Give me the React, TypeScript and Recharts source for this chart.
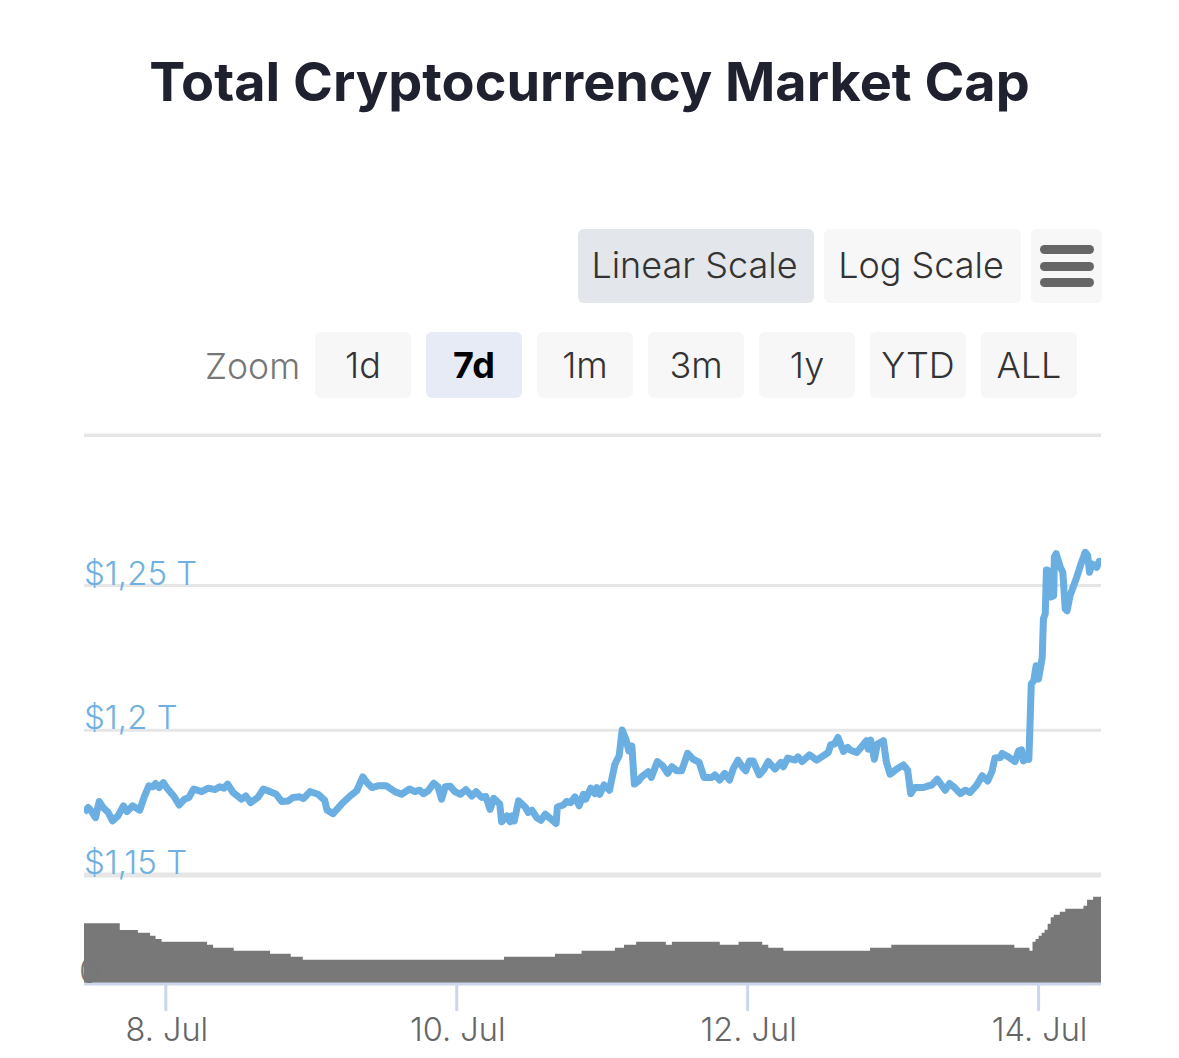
import React from 'react';
import { AreaChart, Area, LineChart, Line, XAxis, YAxis, CartesianGrid, ReferenceLine } from 'recharts';

// hours counted from 8 Jul 00:00
const priceHours = [
  -13.5, -12.8, -12.3, -11.6, -11.0, -10.3, -9.5, -8.8, -7.9, -7.0, -6.4, -5.5, -4.3, -3.5, -2.8, -2.1, -1.7, -1.1, -0.4, 0.2,
  1.3, 2.2, 3.1, 3.8, 4.6, 5.9, 7.0, 8.1, 8.9, 9.6, 10.2, 11.1, 12.5, 13.2, 14.0, 15.2, 16.1, 17.2, 18.2, 19.1,
  20.2, 21.0, 22.1, 22.7, 23.8, 25.1, 26.2, 26.6, 27.6, 29.0, 30.4, 31.5, 32.5, 33.2, 34.0, 35.0, 36.4, 37.8, 38.9, 40.2,
  41.1, 41.9, 42.5, 43.3, 44.2, 44.9, 45.5, 46.1, 46.9, 47.7, 48.6, 49.5, 50.5, 51.2, 52.1, 52.8, 53.5, 54.1, 55.1, 55.4,
  56.3, 56.8, 57.1, 57.5, 58.2, 59.3, 59.8, 60.4, 61.2, 61.9, 62.6, 63.4, 64.4, 64.6, 65.6, 66.1, 66.8, 67.5, 68.2, 68.9,
  69.3, 70.1, 70.8, 71.1, 71.6, 72.3, 73.2, 73.7, 74.1, 74.8, 75.3, 75.9, 76.4, 76.9, 77.3, 78.0, 78.5, 79.6, 80.1, 81.1,
  82.0, 82.8, 83.5, 84.3, 85.1, 86.1, 87.0, 88.0, 88.8, 90.1, 90.6, 91.4, 92.2, 93.0, 93.6, 94.4, 95.2, 95.7, 96.3, 96.9,
  97.9, 98.7, 99.4, 100.5, 101.5, 101.9, 102.6, 103.8, 104.3, 105.0, 106.2, 107.4, 109.3, 109.7, 110.3, 110.9, 111.8, 112.5, 112.9, 114.0,
  114.8, 115.6, 115.9, 116.3, 116.9, 117.4, 118.4, 118.9, 119.5, 120.6, 121.7, 122.4, 122.9, 123.6, 125.0, 125.8, 126.4, 127.3, 128.6, 129.3,
  130.0, 131.1, 131.9, 132.7, 133.8, 134.7, 135.6, 136.3, 136.8, 137.7, 138.0, 139.0, 140.1, 140.7, 141.2, 141.5, 142.1, 142.4, 142.8, 143.2,
  143.6, 144.0, 144.6, 144.8, 145.1, 145.3, 145.6, 146.0, 146.5, 146.6, 146.9, 147.6, 148.0, 148.4, 148.7, 149.2, 149.7, 150.3, 151.0, 151.7,
  152.1, 152.4, 152.8, 153.6, 154.0, 154.3,
];

// total market cap, billions of dollars
const priceValues = [
  1171.6, 1173.3, 1172.1, 1169.8, 1175.4, 1173.2, 1171.6, 1168.7, 1170.4, 1173.9, 1171.9, 1173.9, 1172.4, 1177.3, 1180.8, 1180.5, 1181.6, 1180.2, 1181.9, 1180,
  1177.3, 1174.2, 1176.2, 1176.8, 1179.7, 1178.8, 1180, 1179.5, 1180.5, 1180, 1181.4, 1178.5, 1176.2, 1177.3, 1175, 1176.8, 1179.7, 1178.8, 1177.9, 1175.4,
  1175.6, 1176.8, 1177, 1176.4, 1178.8, 1177.9, 1175.9, 1172.4, 1171.2, 1174.5, 1177.3, 1179.1, 1183.9, 1181.9, 1180.2, 1180.8, 1180.8, 1178.8, 1177.9, 1179.7,
  1178.8, 1179.3, 1178.1, 1179.1, 1181.7, 1180.5, 1176.2, 1180.5, 1180.7, 1178.8, 1177.9, 1179.5, 1177.3, 1178.8, 1176.8, 1177.1, 1172.7, 1176.5, 1174.5, 1168.4,
  1170.4, 1168.4, 1170.4, 1168.7, 1175.6, 1173.5, 1171.6, 1172.4, 1169.8, 1168.9, 1171, 1169.6, 1167.8, 1173.5, 1174.2, 1175.4, 1175, 1177, 1173.9, 1177.9,
  1176.2, 1180, 1178.1, 1180.2, 1177.9, 1181.1, 1179.3, 1184.3, 1188.3, 1191.2, 1200.1, 1197, 1192.9, 1194.6, 1181.4, 1182.5, 1183.9, 1185.7, 1183.7, 1189.2,
  1187.7, 1185.1, 1187.4, 1186, 1186, 1192, 1190, 1188.9, 1183.7, 1183.7, 1184.6, 1182.8, 1185.1, 1182.8, 1186.6, 1189.7, 1187.1, 1186, 1189.4, 1189.4,
  1184.6, 1186.5, 1189.2, 1186.6, 1188.9, 1187.4, 1190.4, 1189.7, 1190.8, 1189.2, 1191.5, 1189.7, 1192.3, 1195, 1195.2, 1197.5, 1192.7, 1194.1, 1193.2, 1192.3,
  1194.3, 1196.4, 1193.5, 1196.6, 1190, 1195.2, 1196.4, 1188.9, 1184.8, 1186.6, 1188, 1186.2, 1178.1, 1180.2, 1180.2, 1180.8, 1181.1, 1183.1, 1179.3, 1181.6,
  1180.5, 1178.1, 1179.3, 1178.5, 1181.1, 1184.3, 1182.5, 1185.7, 1190.4, 1190.6, 1192, 1190.8, 1189.2, 1192.9, 1193.2, 1189.4, 1190.6, 1190, 1216, 1217.1,
  1222.3, 1217.7, 1225.2, 1238.5, 1240.2, 1255.4, 1255.2, 1246, 1246.5, 1259.8, 1261, 1256.3, 1254.6, 1241.9, 1241.3, 1246.5, 1249.4, 1252.9, 1257.5, 1261.5,
  1260.4, 1254.6, 1257.5, 1256.3, 1258.4, 1258.3,
];

const volumeHours = [
  -13.5, -7.6, -4.6, -2.6, -1.7, -0.7, 6.8, 7.8, 11.2, 17.2, 20.6, 22.6, 55.8, 64.2, 68.6, 74.1, 75.6, 77.6, 82.5, 83.5,
  91.4, 94.5, 98.4, 99.4, 101.9, 116.2, 119.7, 140, 142.5, 143, 143.5, 144, 144.5, 145, 145.5, 146, 146.5, 147.5, 148.4, 151.4,
  152, 153, 154.3,
];

const volumeValues = [
  60.7, 54, 51.3, 48.3, 45, 42.3, 39.3, 36.3, 33.3, 30.3, 27.3, 24.3, 27.3, 30.3, 33.3, 36.3, 39.3, 42.3, 39.3, 42.3,
  39.3, 42.3, 39.3, 36.3, 33.3, 36.3, 39.3, 36.3, 33.3, 42.3, 45, 48.3, 51.3, 54.3, 60.3, 66.7, 69.3, 72.3, 75.3, 78.3,
  84.3, 87.3, 87.3,
];

const priceTicks = [1150, 1200, 1250];
const priceLabels: Record<number, string> = { 1150: '$1,15 T', 1200: '$1,2 T', 1250: '$1,25 T' };
const dateTicks = [0, 48, 96, 144];
const dateLabels: Record<number, string> = { 0: '8. Jul', 48: '10. Jul', 96: '12. Jul', 144: '14. Jul' };
const scaleButtons = [
  { label: 'Linear Scale', left: 578, width: 236, bg: '#e3e6ea' },
  { label: 'Log Scale', left: 824, width: 197, bg: '#f7f7f7' },
];
const zoomButtons = ['1d', '7d', '1m', '3m', '1y', 'YTD', 'ALL'];

const priceData = priceHours.map((t, i) => ({ t, v: priceValues[i] }));
const volumeData = volumeHours.map((t, i) => ({ t, v: volumeValues[i] }));

const FONT = 'Inter, sans-serif';
const hourDomain: [number, number] = [-13.5, 154.3];

const PriceTick = ({ x, y, payload }: any) => (
  <text x={x} y={y - 1} fontFamily={FONT} fontSize={33} fontWeight={300} fill="#6fb0e0" textAnchor="start">
    {priceLabels[payload.value]}
  </text>
);

const ZeroTick = ({ x, y }: any) => (
  <text x={x - 5} y={y - 1} fontFamily={FONT} fontSize={34} fontWeight={300} fill="#777777" textAnchor="start">
    0
  </text>
);

const DateTick = ({ x, y, payload }: any) => (
  <text x={x + 1} y={y + 3} fontFamily={FONT} fontSize={32.5} fontWeight={300} fill="#666666" textAnchor="middle" dominantBaseline="hanging">
    {dateLabels[payload.value]}
  </text>
);

const box = (left: number, top: number, width: number, height: number, bg: string): React.CSSProperties => ({
  position: 'absolute', left, top, width, height, background: bg, borderRadius: 6,
  display: 'flex', alignItems: 'center', justifyContent: 'center',
});

export default function App() {
  return (
    <div style={{ position: 'absolute', left: 0, top: 0, width: 1179, height: 1058, background: '#fff', fontFamily: FONT, overflow: 'hidden' }}>
      <div style={{ position: 'absolute', left: 0, width: 1179, top: 51, textAlign: 'center', fontSize: 54, fontWeight: 700, color: '#20212e', lineHeight: '62px' }}>
        Total Cryptocurrency Market Cap
      </div>

      {scaleButtons.map((b) => (
        <div key={b.label} style={{ ...box(b.left, 229, b.width, 74, b.bg), fontSize: 36, fontWeight: 300, color: '#333', paddingRight: 3, paddingBottom: 2, boxSizing: 'border-box' }}>{b.label}</div>
      ))}
      <div style={box(1031, 229, 71, 74, '#f7f7f7')} />
      {[245, 262, 278].map((top) => (
        <div key={top} style={{ position: 'absolute', left: 1040, top, width: 54, height: 9, borderRadius: 5, background: '#666' }} />
      ))}

      <div style={{ position: 'absolute', left: 205, top: 345, fontSize: 35.5, fontWeight: 300, color: '#777', lineHeight: '44px' }}>Zoom</div>
      {zoomButtons.map((label, i) => (
        <div
          key={label}
          style={{
            ...box(315 + i * 111, 332, 96, 66, label === '7d' ? '#e6ebf5' : '#f7f7f7'),
            fontSize: 36,
            fontWeight: label === '7d' ? 700 : 300,
            color: label === '7d' ? '#000' : '#333',
          }}
        >
          {label}
        </div>
      ))}
      <div style={{ position: 'absolute', left: 84, top: 434, width: 1017, height: 3, background: '#e6e6e6' }} />

      <div style={{ position: 'absolute', left: 0, top: 430 }}>
        <LineChart width={1179} height={450} data={priceData} margin={{ top: 5, right: 78, bottom: 5, left: 0 }}>
          <CartesianGrid vertical={false} stroke="#e6e6e6" strokeWidth={3} />
          <XAxis dataKey="t" type="number" domain={hourDomain} hide allowDataOverflow />
          <YAxis type="number" domain={[1150, 1302]} ticks={priceTicks} width={84} axisLine={false} tickLine={false} tickSize={0} tickMargin={0} tick={PriceTick} interval={0} />
          <ReferenceLine y={1150} stroke="#e6e6e6" strokeWidth={5} />
          <Line dataKey="v" type="linear" stroke="#6aaee2" strokeWidth={7} strokeLinejoin="round" dot={false} isAnimationActive={false} />
        </LineChart>
      </div>

      <div style={{ position: 'absolute', left: 0, top: 875 }}>
        <AreaChart width={1179} height={183} data={volumeData} margin={{ top: 0, right: 78, bottom: 0, left: 0 }}>
          <XAxis
            dataKey="t"
            type="number"
            domain={hourDomain}
            ticks={dateTicks}
            interval={0}
            height={74}
            tick={DateTick}
            tickSize={27}
            stroke="#ccd6eb"
            strokeWidth={3}
            allowDataOverflow
          />
          <YAxis type="number" domain={[0, 109]} ticks={[0]} width={84} axisLine={false} tickLine={false} tickSize={0} tickMargin={0} tick={ZeroTick} interval={0} />
          <Area dataKey="v" type="stepAfter" stroke="none" fill="#787878" fillOpacity={1} isAnimationActive={false} />
        </AreaChart>
      </div>
    </div>
  );
}
